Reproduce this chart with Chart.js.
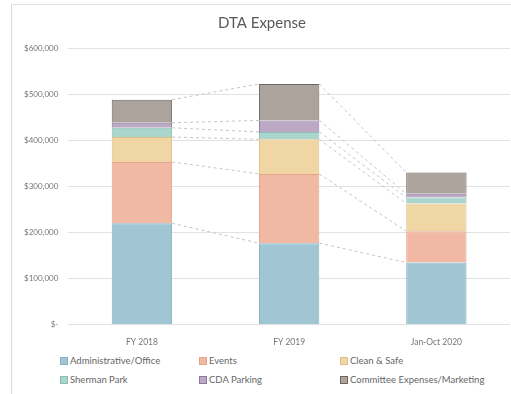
<!DOCTYPE html>
<html>
<head>
<meta charset="utf-8">
<script src="https://cdn.jsdelivr.net/npm/chart.js@4"></script>
<style>
  html, body { margin: 0; padding: 0; background: #fff; }
  body { width: 511px; height: 394px; position: relative; overflow: hidden; font-family: Lato, "Open Sans", sans-serif; }
  .frame { position: absolute; left: 11px; top: 4px; right: 0; bottom: 0; border-left: 1px solid #d9d9d9; border-top: 1px solid #e3e3e3; }
  .chart-box { position: absolute; left: 0; top: 0; width: 511px; height: 351px; }
  .legend { position: absolute; left: 60px; top: 355px; display: grid; grid-template-columns: 139px 141px 170px; row-gap: 8px; font-size: 9.5px; color: #666; }
  .legend span.sw { display: inline-block; width: 6px; height: 6px; margin-right: 2px; vertical-align: -0.5px; border: 1px solid; }
</style>
</head>
<body>
<div class="frame"></div>
<div class="chart-box"><canvas id="dtaChart"></canvas></div>
<div class="legend" id="legend"></div>
<script>
const categories = ["FY 2018", "FY 2019", "Jan-Oct 2020"];
const seriesNames = ["Administrative/Office", "Events", "Clean & Safe", "Sherman Park", "CDA Parking", "Committee Expenses/Marketing"];
const adminOffice = [220000, 177000, 135000];
const events = [133000, 150000, 68000];
const cleanSafe = [54000, 75000, 60000];
const shermanPark = [20000, 16000, 13000];
const cdaParking = [11000, 25000, 8000];
const committee = [50000, 79000, 46000];
const yTicks = [0, 100000, 200000, 300000, 400000, 500000, 600000];

const fills = ["#a0c6d3", "#f1b9a4", "#efd6a4", "#aad5cc", "#bda9c5", "#aba39c"];
const edges = ["#86b0bf", "#e3a58e", "#dcc088", "#8cbfb4", "#8a7a9a", "#6e6761"];
const values = [adminOffice, events, cleanSafe, shermanPark, cdaParking, committee];

const money = v => v === 0 ? "$-" : "$" + v.toLocaleString("en-US");

// dashed lines linking the top of each segment to the next bar
const seriesLines = {
    id: "seriesLines",
    afterDatasetsDraw(chart) {
        const ctx = chart.ctx;
        ctx.save();
        ctx.strokeStyle = "#c4c4c4";
        ctx.lineWidth = 1;
        ctx.setLineDash([3, 3]);
        chart.data.datasets.forEach((ds, d) => {
            const bars = chart.getDatasetMeta(d).data;
            for (let i = 0; i < bars.length - 1; i++) {
                const a = bars[i], b = bars[i + 1];
                ctx.beginPath();
                ctx.moveTo(a.x + a.width / 2, a.y);
                ctx.lineTo(b.x - b.width / 2, b.y);
                ctx.stroke();
            }
        });
        ctx.restore();
    }
};

new Chart(document.getElementById("dtaChart"), {
    type: "bar",
    data: {
        labels: categories,
        datasets: seriesNames.map((name, k) => ({
            label: name,
            data: values[k],
            backgroundColor: fills[k],
            borderColor: edges[k],
            borderWidth: 1,
            categoryPercentage: 0.41,
            barPercentage: 1,
        })),
    },
    options: {
        responsive: true,
        maintainAspectRatio: false,
        animation: false,
        layout: { padding: { left: 14, right: 1, top: 6, bottom: 0 } },
        scales: {
            x: {
                stacked: true,
                grid: { display: false },
                border: { display: false },
                ticks: { color: "#777", font: { family: "Lato", size: 8.5 }, padding: 4 },
            },
            y: {
                stacked: true,
                min: 0,
                max: 600000,
                afterBuildTicks: axis => { axis.ticks = yTicks.map(v => ({ value: v })); },
                grid: { color: "#e2e2e2", drawTicks: false },
                border: { display: false },
                ticks: { color: "#777", font: { family: "Lato", size: 8 }, padding: 10, callback: v => money(v) },
            },
        },
        plugins: {
            legend: { display: false },
            tooltip: { enabled: false },
            title: {
                display: true,
                text: "DTA Expense",
                color: "#595959",
                font: { family: "Lato", size: 15, weight: "normal" },
                padding: { top: 8, bottom: 16 },
            },
        },
    },
    plugins: [seriesLines],
});

const legend = document.getElementById("legend");
seriesNames.forEach((name, k) => {
    const item = document.createElement("div");
    item.innerHTML = `<span class="sw" style="background:${fills[k]};border-color:${edges[k]}"></span>${name}`;
    legend.appendChild(item);
});
</script>
</body>
</html>
